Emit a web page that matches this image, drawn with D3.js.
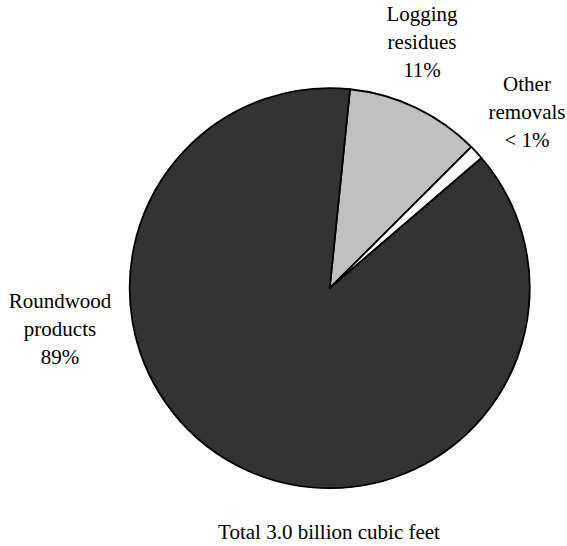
<!DOCTYPE html>
<html>
<head>
<meta charset="utf-8">
<script src="https://cdn.jsdelivr.net/npm/d3@7/dist/d3.min.js"></script>
<style>
  html, body { margin: 0; padding: 0; background: #fff; }
</style>
</head>
<body>
<svg id="chart" width="567" height="546"></svg>
<script>
const categories = ["Logging residues", "Other removals", "Roundwood products"];
const values = [10.9, 1.2, 87.9];
const labelLines = [["Logging", "residues", "11%"], ["Other", "removals", "< 1%"], ["Roundwood", "products", "89%"]];
const colors = ["#c0c0c0", "#ffffff", "#333333"];
const title = "Total 3.0 billion cubic feet";

const FONT = "'Liberation Serif', 'Times New Roman', Times, 'DejaVu Serif', serif";
const svg = d3.select("#chart");
const cx = 329.7, cy = 288.2, r = 200;
const startDeg = 5.83;

const pie = d3.pie().sort(null)
  .startAngle(startDeg * Math.PI / 180)
  .endAngle(startDeg * Math.PI / 180 + 2 * Math.PI);
const arcs = pie(values);
const arc = d3.arc().innerRadius(0).outerRadius(r);

const g = svg.append("g").attr("transform", `translate(${cx},${cy})`);
g.selectAll("path").data(arcs).enter().append("path")
  .attr("d", arc)
  .attr("fill", (d, i) => colors[i])
  .attr("stroke", "#000")
  .attr("stroke-width", 1.8)
  .attr("stroke-linejoin", "round");

const labelPos = [[422, 21], [527, 91], [60, 308]];
const lh = 28;
labelLines.forEach((lines, i) => {
  const t = svg.append("text").attr("text-anchor", "middle")
    .attr("font-family", FONT).attr("font-size", 21).attr("fill", "#000");
  lines.forEach((ln, j) => {
    t.append("tspan").attr("x", labelPos[i][0]).attr("y", labelPos[i][1] + j * lh).text(ln);
  });
});

svg.append("text").attr("x", 329).attr("y", 539).attr("text-anchor", "middle")
  .attr("font-family", FONT).attr("font-size", 21).attr("fill", "#000").text(title);
</script>
</body>
</html>
